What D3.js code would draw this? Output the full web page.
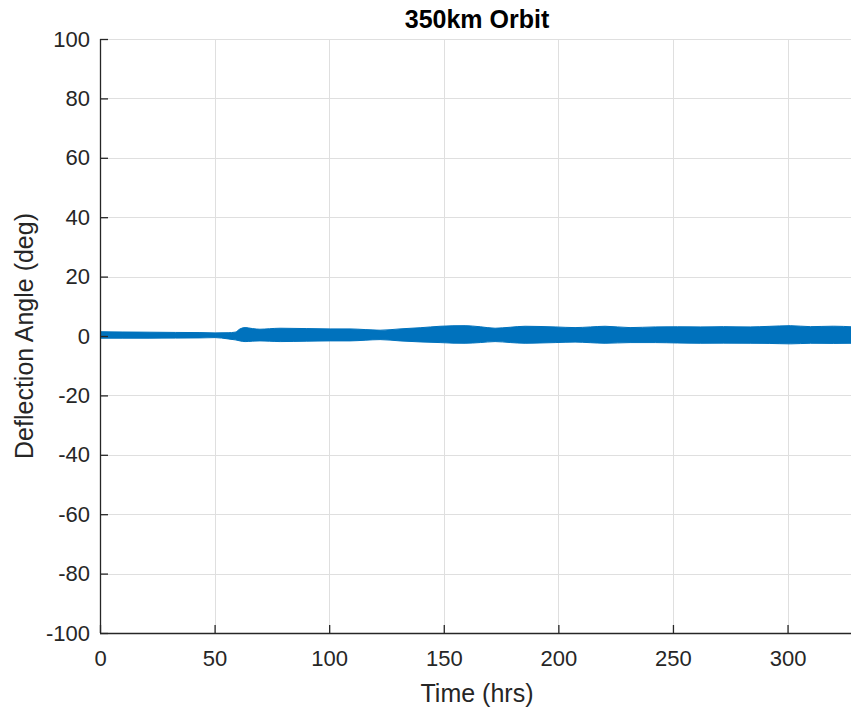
<!DOCTYPE html>
<html>
<head>
<meta charset="utf-8">
<script src="https://cdn.jsdelivr.net/npm/d3@7"></script>
<style>
  html, body { margin: 0; padding: 0; background: #ffffff; }
  svg { display: block; }
  text { font-family: "Liberation Sans", Arial, Helvetica, sans-serif; }
</style>
</head>
<body>
<svg id="chart" width="851" height="713"></svg>
<script>
// Deflection angle envelope over time (hrs): upper and lower bounds of the oscillation (deg)
const timeHrs  = [0, 10, 21.8, 33, 43.6, 50.2, 55.9, 59, 61.1, 63.3, 66.5, 69.8, 74, 78.6, 90, 100.4, 109.1, 116, 122.2, 130.9, 140, 148.4, 154, 159.3, 166, 172.4, 179, 185.5, 192, 198.6, 207.3, 214, 220.4, 231.3, 242.3, 252, 261.9, 272, 283.7, 292, 301.2, 310, 320, 329];
const upperDeg = [1.45, 1.35, 1.28, 1.2, 1.15, 1.05, 1.1, 1.3, 2.39, 2.83, 2.5, 2.28, 2.45, 2.62, 2.5, 2.39, 2.39, 2.15, 1.95, 2.39, 2.8, 3.28, 3.45, 3.48, 3.1, 2.62, 2.95, 3.28, 3.2, 3.06, 2.83, 3.05, 3.28, 2.83, 3.06, 3.1, 3.06, 3.15, 3.06, 3.25, 3.48, 3.15, 3.3, 3.06];
const lowerDeg = [-0.74, -0.74, -0.74, -0.7, -0.64, -0.54, -0.98, -1.3, -1.65, -1.88, -1.75, -1.65, -1.75, -1.88, -1.75, -1.65, -1.65, -1.4, -1.21, -1.65, -2.0, -2.22, -2.4, -2.45, -2.2, -1.88, -2.2, -2.45, -2.35, -2.22, -2.05, -2.25, -2.45, -2.22, -2.22, -2.35, -2.45, -2.4, -2.45, -2.5, -2.65, -2.45, -2.5, -2.45];

// Axis ticks
const xTicks = [0, 50, 100, 150, 200, 250, 300];
const yTicks = [-100, -80, -60, -40, -20, 0, 20, 40, 60, 80, 100];

const band = timeHrs.map((t, i) => ({ t, hi: upperDeg[i], lo: lowerDeg[i] }));

const svg = d3.select("#chart");
const plotLeft = 100, plotRight = 854, plotTop = 39, plotBottom = 633;

const x = d3.scaleLinear().domain([0, 329]).range([plotLeft, plotRight]);
const y = d3.scaleLinear().domain([-100, 100]).range([plotBottom, plotTop]);

const axisColor = "#262626";
const gridColor = "#dfdfdf";

// Clip region for the plotted data
svg.append("defs").append("clipPath").attr("id", "plotClip")
  .append("rect").attr("x", plotLeft).attr("y", plotTop)
  .attr("width", plotRight - plotLeft).attr("height", plotBottom - plotTop);

// Grid
const grid = svg.append("g");
grid.selectAll("line.gx").data(xTicks).join("line")
  .attr("class", "gx")
  .attr("x1", d => Math.round(x(d)) + 0.5).attr("x2", d => Math.round(x(d)) + 0.5)
  .attr("y1", plotTop).attr("y2", plotBottom)
  .attr("stroke", gridColor).attr("stroke-width", 1);
grid.selectAll("line.gy").data(yTicks).join("line")
  .attr("class", "gy")
  .attr("x1", plotLeft).attr("x2", plotRight)
  .attr("y1", d => Math.round(y(d)) + 0.5).attr("y2", d => Math.round(y(d)) + 0.5)
  .attr("stroke", gridColor).attr("stroke-width", 1);

// Oscillation band
const area = d3.area()
  .x(d => x(d.t))
  .y0(d => y(d.lo))
  .y1(d => y(d.hi))
  .curve(d3.curveMonotoneX);

svg.append("path")
  .datum(band)
  .attr("clip-path", "url(#plotClip)")
  .attr("d", area)
  .attr("fill", "#0072bd")
  .attr("stroke", "#0072bd")
  .attr("stroke-width", 1)
  .attr("stroke-linejoin", "round");

// Axes (plain hyphen for negative tick labels)
const fmt = d => String(d);
const xAxis = d3.axisBottom(x).tickValues(xTicks).tickSize(-8).tickPadding(17).tickFormat(fmt);
const yAxis = d3.axisLeft(y).tickValues(yTicks).tickSize(-8).tickPadding(10).tickFormat(fmt);

const gx = svg.append("g").attr("transform", `translate(0,${plotBottom})`).call(xAxis);
const gy = svg.append("g").attr("transform", `translate(${plotLeft},0)`).call(yAxis);

[gx, gy].forEach(g => {
  g.select(".domain").attr("stroke", axisColor).attr("stroke-width", 1.3);
  g.selectAll(".tick line").attr("stroke", axisColor).attr("stroke-width", 1.3);
  g.selectAll(".tick text")
    .attr("fill", axisColor)
    .style("font-size", "22px")
    .style("font-family", "'Liberation Sans', Arial, Helvetica, sans-serif");
});
gx.select(".domain").attr("d", `M${plotLeft},0.5H${plotRight}`);
gy.select(".domain").attr("d", `M0.5,${plotTop}V${plotBottom}`);

// Title and axis labels
svg.append("text")
  .attr("x", 477).attr("y", 28)
  .attr("text-anchor", "middle")
  .style("font-size", "25px").style("font-weight", "bold")
  .attr("fill", "#000000")
  .text("350km Orbit");

svg.append("text")
  .attr("x", 477).attr("y", 702)
  .attr("text-anchor", "middle")
  .style("font-size", "25px")
  .attr("fill", axisColor)
  .text("Time (hrs)");

svg.append("text")
  .attr("transform", "translate(33,336) rotate(-90)")
  .attr("text-anchor", "middle")
  .style("font-size", "25px")
  .attr("fill", axisColor)
  .text("Deflection Angle (deg)");
</script>
</body>
</html>
